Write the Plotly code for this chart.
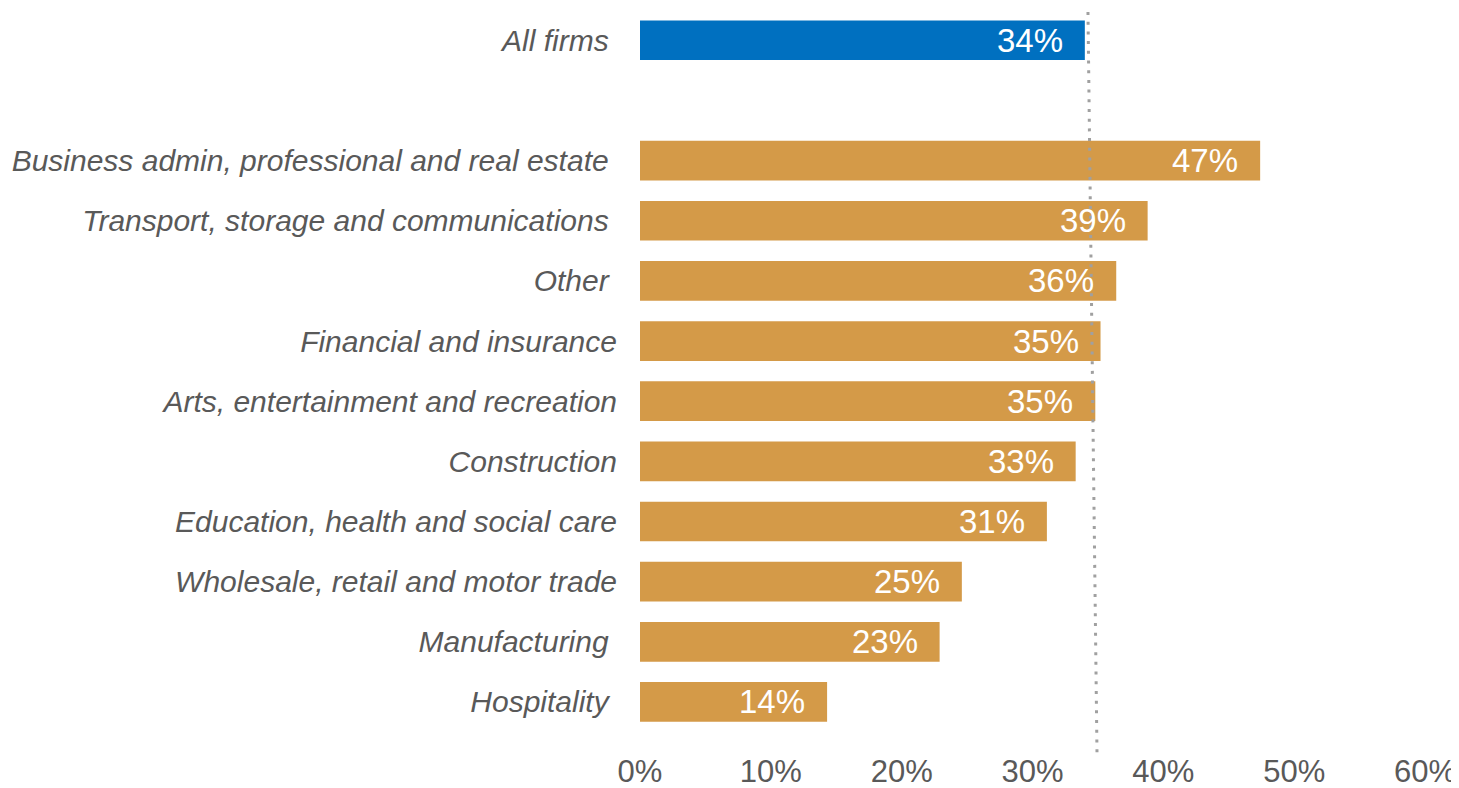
import plotly.graph_objects as go

# Data (top to bottom); None marks the blank spacer row
categories = ["All firms\u00a0",
              None,
              "Business admin, professional and real estate\u00a0",
              "Transport, storage and communications\u00a0",
              "Other\u00a0",
              "Financial and insurance",
              "Arts, entertainment and recreation",
              "Construction",
              "Education, health and social care",
              "Wholesale, retail and motor trade",
              "Manufacturing\u00a0",
              "Hospitality\u00a0"]
values = [34, None, 47.4, 38.8, 36.4, 35.2, 34.8, 33.3, 31.1, 24.6, 22.9, 14.3]
labels = ["34%", None, "47%", "39%", "36%", "35%", "35%", "33%", "31%", "25%", "23%", "14%"]
ref_line = [34.24, 34.93]  # dotted reference line (top, bottom)
x_ticks = [0, 10, 20, 30, 40, 50, 60]
x_tick_text = ["0%", "10%", "20%", "30%", "40%", "50%", "60%"]

BLUE = "#0070C0"
GOLD = "#D49A48"
GREY = "#595959"

pos = [i for i, c in enumerate(categories) if c is not None]
names = [categories[i] for i in pos]
vals = [values[i] for i in pos]
txts = [labels[i] for i in pos]
colors = [BLUE if i == 0 else GOLD for i in pos]

fig = go.Figure()
fig.add_trace(go.Bar(
    x=vals, y=pos, orientation="h",
    marker=dict(color=colors, line=dict(width=0)),
    width=0.66, hoverinfo="skip", showlegend=False,
))

for p, v, t in zip(pos, vals, txts):
    fig.add_annotation(x=v, y=p, xref="x", yref="y", text=t, showarrow=False,
                       xanchor="right", yanchor="middle", xshift=-20,
                       font=dict(family="Liberation Sans, Arial", size=33, color="white"))

fig.add_shape(type="line", xref="x", yref="paper",
              x0=ref_line[0], x1=ref_line[1], y0=1, y1=-0.004,
              line=dict(color="#A0A0A0", width=3, dash="3px,6.7px"), layer="above")

# page body has an 8px margin, so the figure is 8px smaller each way
fig.update_layout(
    width=1451, height=780,
    margin=dict(l=632, r=34, t=4, b=38),
    paper_bgcolor="white", plot_bgcolor="white",
    xaxis=dict(range=[0, 60], tickvals=x_ticks, ticktext=x_tick_text,
               showgrid=False, zeroline=False, showline=False, ticks="",
               automargin=False,
               tickfont=dict(family="Liberation Sans, Arial", size=31, color=GREY)),
    yaxis=dict(range=[11.799, -0.47], tickvals=pos, ticktext=names,
               showgrid=False, zeroline=False, showline=False, ticks="",
               automargin=False, ticklabelstandoff=22,
               tickfont=dict(family="Liberation Sans, Arial", size=30, color=GREY,
                             style="italic")),
)

fig.write_html("out.html")
